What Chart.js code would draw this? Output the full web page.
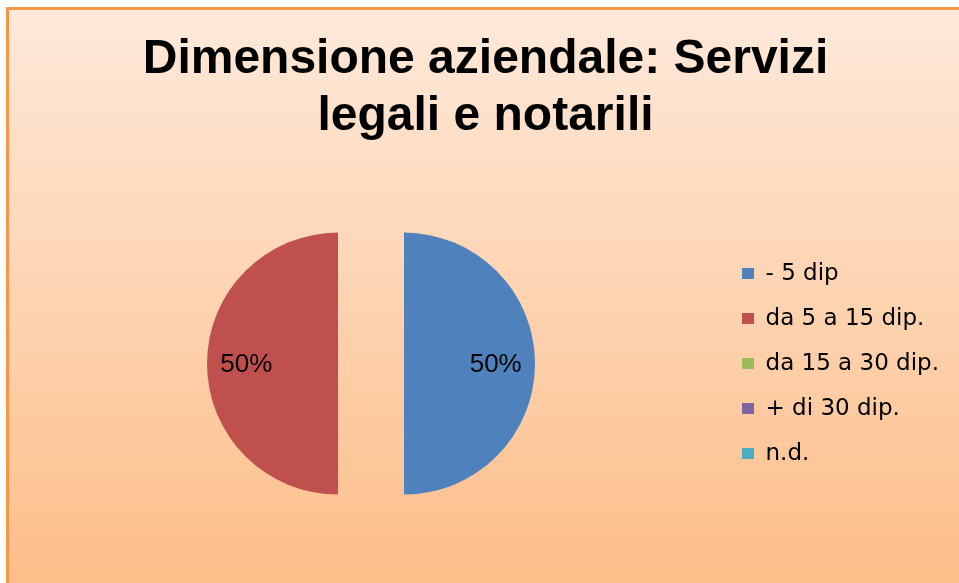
<!DOCTYPE html>
<html>
<head>
<meta charset="utf-8">
<script src="https://cdn.jsdelivr.net/npm/chart.js@4.4.0/dist/chart.umd.min.js"></script>
<style>
  html, body { margin: 0; padding: 0; background: #fff; overflow: hidden; }
  #frame {
    position: absolute; left: 6px; top: 7px; width: 1000px; height: 600px;
    border-top: 3px solid #f79646; border-left: 3px solid #f79646;
    background: linear-gradient(to bottom, #fee9da 0px, #fdbe89 573px);
  }
  canvas { display: block; }
</style>
</head>
<body>
<div id="frame"><canvas id="chart" width="956" height="573"></canvas></div>
<script>
const titleLines = ["Dimensione aziendale: Servizi", "legali e notarili"];
const categories = ["- 5 dip", "da 5 a 15 dip.", "da 15 a 30 dip.", "+ di 30 dip.", "n.d."];
const shares = [50, 50, 0, 0, 0];
const sliceColors = ["#4f81bd", "#c0504d", "#9bbb59", "#8064a2", "#4bacc6"];

// how far each slice is pulled out from the centre
const EXPLODE = 33;

const explodePlugin = {
  id: "explode",
  beforeDatasetDraw(chart, args) {
    const ctx = chart.ctx;
    args.meta.data.forEach((arc) => {
      const mid = (arc.startAngle + arc.endAngle) / 2;
      ctx.save();
      ctx.translate(Math.cos(mid) * EXPLODE, Math.sin(mid) * EXPLODE);
      arc.draw(ctx);
      ctx.restore();
    });
    return false;
  }
};

// percentage labels inside the slices
const labelPlugin = {
  id: "sliceLabels",
  afterDatasetsDraw(chart) {
    const ctx = chart.ctx;
    const meta = chart.getDatasetMeta(0);
    const values = chart.data.datasets[0].data;
    const total = values.reduce((a, b) => a + b, 0);
    ctx.save();
    ctx.font = "26px 'Liberation Sans', Arial, sans-serif";
    ctx.fillStyle = "#000";
    ctx.textAlign = "center";
    ctx.textBaseline = "middle";
    meta.data.forEach((arc, i) => {
      if (!values[i]) return;
      const mid = (arc.startAngle + arc.endAngle) / 2;
      const dist = EXPLODE + arc.outerRadius * 0.7;
      ctx.fillText(
        Math.round((values[i] / total) * 100) + "%",
        arc.x + Math.cos(mid) * dist,
        arc.y + Math.sin(mid) * dist + 1
      );
    });
    ctx.restore();
  }
};

new Chart(document.getElementById("chart"), {
  type: "pie",
  data: {
    labels: categories,
    datasets: [
      {
        data: shares,
        backgroundColor: sliceColors,
        borderWidth: 0,
        radius: 131,
      },
    ],
  },
  options: {
    responsive: false,
    animation: false,
    events: [],
    layout: { padding: { left: 13, right: 16, top: 0, bottom: 3 } },
    plugins: {
      title: {
        display: true,
        text: titleLines,
        color: "#000",
        font: { family: "'Liberation Sans', Arial, sans-serif", size: 48, weight: "bold", lineHeight: 1.19 },
        padding: { top: 21, bottom: 2 },
      },
      legend: {
        position: "right",
        fullSize: false,
        labels: {
          color: "#000",
          font: { family: "'DejaVu Sans', sans-serif", size: 23 },
          boxWidth: 12,
          boxHeight: 11,
          padding: 22,
        },
      },
      tooltip: { enabled: false },
    },
  },
  plugins: [explodePlugin, labelPlugin],
});
</script>
</body>
</html>
